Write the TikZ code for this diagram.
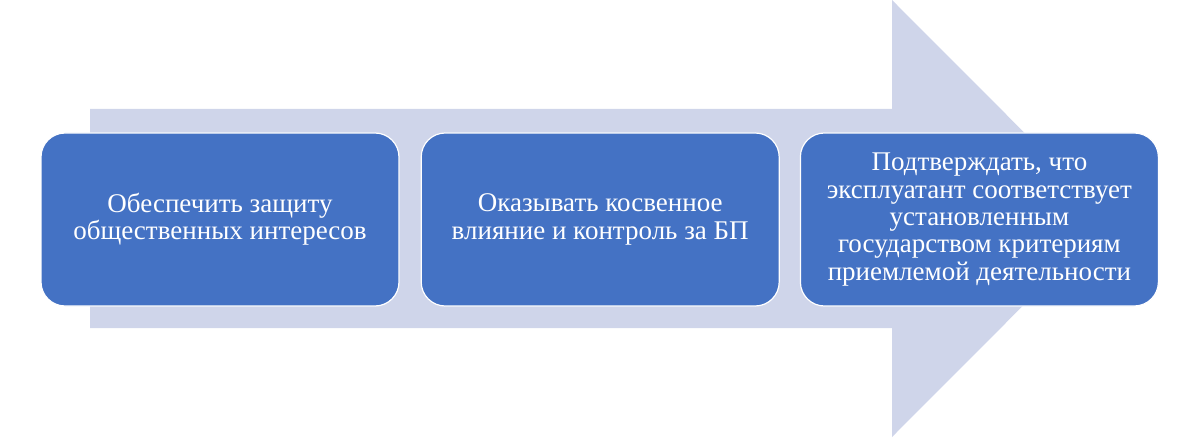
\documentclass[tikz,border=0pt]{standalone}
\usepackage{fontspec}
\setmainfont{Liberation Serif}
\usepackage{xcolor}
\usetikzlibrary{positioning}

\definecolor{boxblue}{HTML}{4472C4}
\definecolor{arrowgrey}{HTML}{CFD5EA}

\begin{document}
\begin{tikzpicture}[x=1pt, y=1pt,
	stagebox/.style={draw=white, line width=1.2pt, fill=boxblue, rounded corners=24pt,
		minimum width=358pt, minimum height=173pt, text=white, align=center,
		font=\rmfamily\fontsize{27}{27.4}\selectfont, inner sep=0pt}]
	\useasboundingbox (0,0) rectangle (1200,437);
	% big arrow behind the boxes
	\fill[arrowgrey] (90,109) -- (90,328) -- (892,328) -- (892,437) -- (1110,218.5)
		-- (892,0) -- (892,109) -- cycle;

	\node[stagebox] (goal-1) at (220,217.5) {Обеспечить защиту\\общественных интересов};
	\node[stagebox, right=21pt of goal-1] (goal-2) {Оказывать косвенное\\влияние и контроль за БП};
	\node[stagebox, right=20pt of goal-2] (goal-3) {Подтверждать, что\\эксплуатант соответствует\\установленным\\государством критериям\\приемлемой деятельности};
\end{tikzpicture}
\end{document}
